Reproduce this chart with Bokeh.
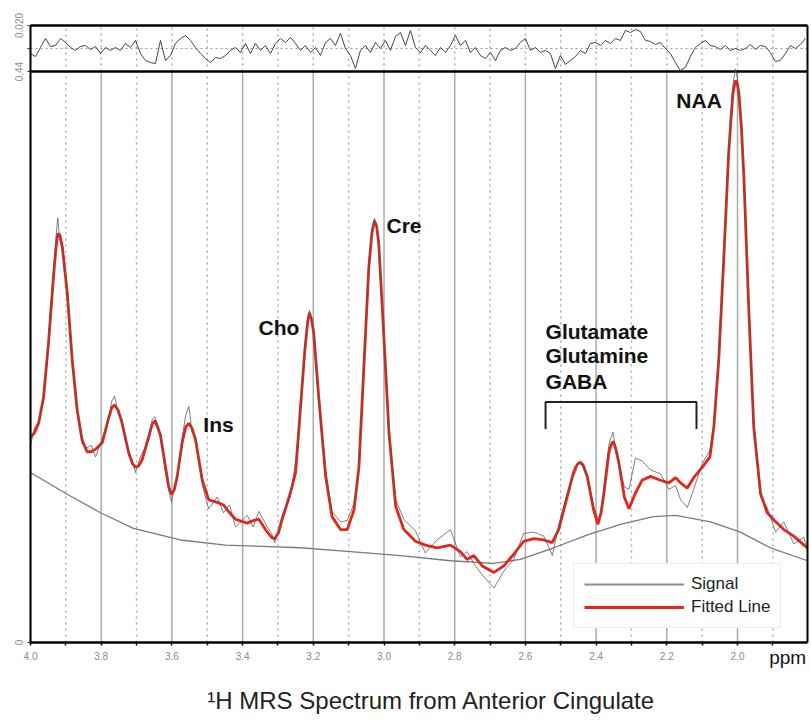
import numpy as np
from bokeh.plotting import figure
from bokeh.models import (Range1d, FixedTicker, Label, Legend, LegendItem,
                          LinearAxis, PrintfTickFormatter)
from bokeh.embed import file_html
from bokeh.resources import INLINE

# ---------------- data ----------------
fit_ppm = [
    4.000, 3.988, 3.977, 3.963, 3.949, 3.935, 3.928, 3.923, 3.917, 3.910,
    3.896, 3.882, 3.868, 3.854, 3.840, 3.828, 3.816, 3.797, 3.780, 3.770,
    3.762, 3.752, 3.741, 3.722, 3.712, 3.703, 3.694, 3.684, 3.665, 3.656,
    3.648, 3.640, 3.632, 3.618, 3.609, 3.601, 3.593, 3.585, 3.571, 3.561,
    3.552, 3.543, 3.533, 3.514, 3.496, 3.472, 3.454, 3.437, 3.420, 3.387,
    3.370, 3.354, 3.330, 3.318, 3.309, 3.298, 3.288, 3.265, 3.250, 3.236,
    3.224, 3.216, 3.211, 3.205, 3.199, 3.184, 3.165, 3.147, 3.123, 3.104,
    3.085, 3.071, 3.057, 3.043, 3.034, 3.027, 3.021, 3.015, 3.001, 2.986,
    2.967, 2.944, 2.911, 2.883, 2.850, 2.812, 2.784, 2.765, 2.746, 2.722,
    2.689, 2.661, 2.633, 2.605, 2.576, 2.548, 2.524, 2.506, 2.482, 2.465,
    2.458, 2.451, 2.444, 2.436, 2.425, 2.407, 2.395, 2.386, 2.378, 2.364,
    2.358, 2.352, 2.345, 2.336, 2.320, 2.307, 2.289, 2.270, 2.246, 2.218,
    2.194, 2.175, 2.161, 2.142, 2.124, 2.100, 2.078, 2.067, 2.053, 2.039,
    2.025, 2.018, 2.013, 2.006, 2.001, 1.996, 1.989, 1.982, 1.968, 1.954,
    1.935, 1.916, 1.892, 1.869, 1.841, 1.812, 1.802]

fit_val = [
    0.158, 0.162, 0.169, 0.189, 0.231, 0.282, 0.304, 0.315, 0.314, 0.305,
    0.269, 0.218, 0.179, 0.156, 0.147, 0.147, 0.149, 0.154, 0.172, 0.181,
    0.183, 0.179, 0.169, 0.146, 0.138, 0.135, 0.136, 0.141, 0.159, 0.168,
    0.171, 0.166, 0.159, 0.135, 0.120, 0.114, 0.118, 0.128, 0.154, 0.166,
    0.169, 0.165, 0.156, 0.125, 0.110, 0.108, 0.106, 0.100, 0.095, 0.092,
    0.094, 0.095, 0.085, 0.081, 0.080, 0.085, 0.095, 0.115, 0.131, 0.182,
    0.225, 0.247, 0.254, 0.249, 0.239, 0.187, 0.128, 0.097, 0.087, 0.087,
    0.102, 0.135, 0.212, 0.289, 0.316, 0.325, 0.321, 0.308, 0.239, 0.162,
    0.105, 0.087, 0.078, 0.075, 0.073, 0.075, 0.070, 0.064, 0.067, 0.059,
    0.054, 0.059, 0.068, 0.078, 0.080, 0.079, 0.077, 0.087, 0.112, 0.130,
    0.135, 0.138, 0.139, 0.136, 0.128, 0.102, 0.091, 0.100, 0.115, 0.146,
    0.152, 0.155, 0.150, 0.139, 0.112, 0.103, 0.115, 0.125, 0.128, 0.125,
    0.123, 0.127, 0.123, 0.119, 0.127, 0.135, 0.143, 0.166, 0.218, 0.295,
    0.377, 0.405, 0.423, 0.433, 0.431, 0.423, 0.397, 0.359, 0.256, 0.166,
    0.115, 0.100, 0.093, 0.087, 0.082, 0.075, 0.073]

signal_val = [
    0.152, 0.166, 0.170, 0.187, 0.233, 0.286, 0.312, 0.327, 0.310, 0.306,
    0.273, 0.214, 0.182, 0.153, 0.150, 0.152, 0.143, 0.157, 0.170, 0.186,
    0.190, 0.176, 0.172, 0.144, 0.141, 0.131, 0.139, 0.146, 0.156, 0.172,
    0.174, 0.163, 0.162, 0.131, 0.117, 0.108, 0.121, 0.126, 0.158, 0.175,
    0.182, 0.162, 0.159, 0.121, 0.103, 0.112, 0.100, 0.106, 0.089, 0.098,
    0.089, 0.101, 0.089, 0.084, 0.077, 0.088, 0.098, 0.113, 0.140, 0.180,
    0.227, 0.249, 0.256, 0.247, 0.241, 0.185, 0.132, 0.101, 0.093, 0.094,
    0.107, 0.133, 0.214, 0.290, 0.318, 0.327, 0.320, 0.307, 0.241, 0.160,
    0.110, 0.095, 0.086, 0.069, 0.079, 0.087, 0.066, 0.070, 0.061, 0.052,
    0.042, 0.055, 0.064, 0.084, 0.085, 0.082, 0.067, 0.090, 0.115, 0.128,
    0.131, 0.139, 0.137, 0.138, 0.126, 0.105, 0.096, 0.098, 0.120, 0.152,
    0.158, 0.162, 0.149, 0.138, 0.120, 0.118, 0.142, 0.140, 0.133, 0.130,
    0.118, 0.121, 0.110, 0.104, 0.118, 0.138, 0.148, 0.168, 0.220, 0.297,
    0.380, 0.410, 0.430, 0.442, 0.436, 0.425, 0.398, 0.360, 0.255, 0.168,
    0.112, 0.104, 0.085, 0.093, 0.076, 0.081, 0.070]

baseline_ppm = [4.000, 3.901, 3.802, 3.709, 3.576, 3.448, 3.236, 3.095, 2.953,
                2.812, 2.690, 2.614, 2.520, 2.424, 2.331, 2.238, 2.175, 2.076,
                1.992, 1.907, 1.802]
baseline_val = [0.131, 0.115, 0.100, 0.088, 0.079, 0.075, 0.073, 0.070, 0.067,
                0.063, 0.061, 0.064, 0.073, 0.083, 0.091, 0.097, 0.098, 0.093,
                0.085, 0.073, 0.063]

residual_val = [
    -0.0044, -0.0070, 0.0009, 0.0087, 0.0017, 0.0026, 0.0087, 0.0052, 0.0009, -0.0017,
    0.0017, 0.0026, -0.0009, 0.0017, -0.0044, 0.0009, -0.0017, 0.0009, -0.0017, 0.0044,
    0.0009, 0.0070, -0.0044, -0.0104, -0.0122, -0.0131, 0.0070, -0.0104, -0.0061, 0.0044,
    0.0087, 0.0113, 0.0070, 0.0009, -0.0044, -0.0087, -0.0122, -0.0078, -0.0087, -0.0061,
    -0.0017, 0.0009, -0.0035, 0.0044, -0.0044, 0.0044, -0.0017, 0.0026, -0.0044, 0.0044,
    0.0087, 0.0052, 0.0096, 0.0044, -0.0017, 0.0026, -0.0035, 0.0009, -0.0061, 0.0052,
    0.0087, 0.0026, 0.0131, 0.0000, -0.0061, -0.0174, -0.0017, 0.0026, -0.0035, 0.0052,
    0.0000, 0.0070, -0.0017, 0.0104, 0.0139, 0.0026, 0.0157, 0.0009, -0.0035, 0.0026,
    -0.0017, -0.0061, 0.0009, -0.0035, 0.0026, 0.0113, 0.0026, 0.0070, -0.0035, 0.0009,
    -0.0061, -0.0087, -0.0035, -0.0104, -0.0017, 0.0009, -0.0017, 0.0000, 0.0052, 0.0087,
    -0.0017, 0.0009, -0.0035, -0.0017, -0.0044, -0.0174, -0.0061, -0.0139, -0.0104, -0.0070,
    -0.0017, -0.0044, 0.0044, 0.0052, 0.0026, 0.0070, 0.0044, 0.0087, 0.0070, 0.0157,
    0.0139, 0.0165, 0.0148, 0.0070, 0.0061, 0.0035, 0.0052, 0.0000, -0.0044, -0.0122,
    -0.0191, -0.0165, -0.0070, 0.0009, 0.0044, 0.0070, 0.0026, 0.0017, -0.0009, 0.0026,
    -0.0017, 0.0000, -0.0017, 0.0000, 0.0035, -0.0009, 0.0026, 0.0017, -0.0035, -0.0113,
    -0.0104, -0.0044, 0.0026, 0.0000, 0.0035, 0.0087]
residual_ppm = np.linspace(4.0, 1.808, len(residual_val))

major_ticks = [4.0, 3.8, 3.6, 3.4, 3.2, 3.0, 2.8, 2.6, 2.4, 2.2, 2.0]
minor_ticks = [3.9, 3.7, 3.5, 3.3, 3.1, 2.9, 2.7, 2.5, 2.3, 2.1, 1.9]

bracket_ppm = [2.543, 2.543, 2.116, 2.116]
bracket_y = [0.1646, 0.1854, 0.1854, 0.1646]

# ---------------- layout constants ----------------
FONT = "Liberation Sans"
GRID_COL = "#ababab"
LEFT, RIGHT, TOP = 30, 3, 25               # margins kept inside the frame
FRAME_W = 777
MAIN_H, RES_H, BELOW_H = 571, 46, 76        # pixel heights of the bands
Y_MAX = 0.44                                # spectrum panel data top
RES_MAX = 0.02                              # residual half range
x_lo, x_hi = 4.0, 1.802                     # plotted ppm span
XPX = FRAME_W / (x_lo - x_hi)               # px per ppm
PX = MAIN_H / Y_MAX                         # px per spectrum unit
y_top = Y_MAX + RES_H / PX                  # top of residual band
RPX = RES_H / (2 * RES_MAX)                 # px per residual unit
res_mid = Y_MAX + RES_MAX * RPX / PX        # residual zero, in spectrum units
res_lo = -RES_MAX - (MAIN_H + BELOW_H) / RPX
res_hi = RES_MAX + TOP / RPX

p = figure(width=LEFT + FRAME_W + RIGHT, height=TOP + RES_H + MAIN_H + BELOW_H,
           x_range=Range1d(x_lo + LEFT / XPX, x_hi - RIGHT / XPX),
           y_range=Range1d(-BELOW_H / PX, y_top + TOP / PX),
           output_backend="svg", toolbar_location=None,
           min_border_left=0, min_border_right=0, min_border_top=0,
           min_border_bottom=0)
p.extra_y_ranges = {"res": Range1d(res_lo, res_hi)}
p.outline_line_color = None
p.xgrid.visible = False
p.ygrid.visible = False

# vertical guide lines: solid at even tenths (spectrum band), dotted elsewhere
p.segment(x0=major_ticks, y0=0, x1=major_ticks, y1=Y_MAX, line_color=GRID_COL,
          line_width=1.5, level="underlay")
p.segment(x0=minor_ticks, y0=0, x1=minor_ticks, y1=y_top, line_color=GRID_COL,
          line_width=1.5, line_dash="2 4", level="underlay")
p.segment(x0=major_ticks, y0=Y_MAX, x1=major_ticks, y1=y_top, line_color=GRID_COL,
          line_width=1.5, line_dash="2 4", level="underlay")
p.segment(x0=[x_lo], y0=[res_mid], x1=[x_hi], y1=[res_mid], line_color="#999999",
          line_width=1, line_dash="2 3", level="underlay")

# x axis drawn at y = 0
ax = p.xaxis[0]
ax.fixed_location = 0
ax.bounds = (x_hi, x_lo)
ax.ticker = FixedTicker(ticks=major_ticks, minor_ticks=minor_ticks)
ax.formatter = PrintfTickFormatter(format="%.1f")
ax.major_label_text_font = FONT
ax.major_label_text_font_size = "10px"
ax.major_label_text_color = "#8a8a8a"
ax.major_label_standoff = 6
ax.major_tick_out = 3
ax.major_tick_in = 0
ax.minor_tick_out = 3
ax.minor_tick_in = 0
ax.axis_line_color = "black"
ax.axis_line_width = 2.5
ax.major_tick_line_color = "black"
ax.minor_tick_line_color = "black"
ax.major_tick_line_width = 1.5
ax.minor_tick_line_width = 1.5

# left axis at 4.0 ppm spanning both bands
ayl = p.yaxis[0]
ayl.fixed_location = x_lo
ayl.bounds = (0, y_top)
ayl.ticker = FixedTicker(ticks=[0, Y_MAX, res_mid, y_top])
ayl.major_label_overrides = {0: "0", Y_MAX: "0.44", res_mid: "", y_top: "0.020"}
ayl.major_label_orientation = "vertical"
ayl.major_label_text_font = FONT
ayl.major_label_text_font_size = "10px"
ayl.major_label_text_color = "#8a8a8a"
ayl.major_tick_out = 3
ayl.major_tick_in = 0
ayl.minor_tick_out = 0
ayl.minor_tick_in = 0
ayl.axis_line_color = "black"
ayl.axis_line_width = 2
ayl.major_tick_line_color = "#333333"

# right border
rax = LinearAxis(fixed_location=x_hi, bounds=(0, y_top), ticker=FixedTicker(ticks=[]),
                 axis_line_color="black", axis_line_width=2,
                 major_tick_out=0, major_tick_in=0, minor_tick_out=0, minor_tick_in=0,
                 major_label_text_font_size="0px")
p.add_layout(rax, "right")
# separator between residual and spectrum bands, and top border
p.segment(x0=[x_lo, x_lo], y0=[Y_MAX, y_top], x1=[x_hi, x_hi], y1=[Y_MAX, y_top],
          line_color="black", line_width=2.5)

# residual
p.line(residual_ppm, residual_val, y_range_name="res", line_color="#444444", line_width=1)

# spectrum
p.line(baseline_ppm, baseline_val, line_color="#7a7a7a", line_width=1.3)
fit_r = p.line(fit_ppm, fit_val, line_color="#e4261c", line_width=2.8)
p.line(fit_ppm, signal_val, line_color="#555555", line_width=1, line_alpha=0.75)
# one-sample renderer used only for the legend swatch of the signal
sig_leg = p.line([fit_ppm[0]], [signal_val[0]], line_color="#8c8c8c", line_width=2)

# bracket for Glx region
p.line(bracket_ppm, bracket_y, line_color="#222222", line_width=2)

def lab(x, y, text, size="21px", bold=True, color="#111111", align="left"):
    p.add_layout(Label(x=x, y=y, text=text, text_font=FONT, text_font_size=size,
                       text_font_style="bold" if bold else "normal",
                       text_color=color, text_baseline="middle", text_align=align))

lab(2.173, 0.418, "NAA")
lab(2.993, 0.321, "Cre")
lab(3.355, 0.243, "Cho")
lab(3.511, 0.168, "Ins")
lab(2.543, 0.240, "Glutamate")
lab(2.543, 0.2208, "Glutamine")
lab(2.543, 0.2015, "GABA")
lab(1.806, -15 / PX, "ppm", size="19px", bold=False, align="right")
lab(2.866, -58 / PX, "\u00b9H MRS Spectrum from Anterior Cingulate", size="24px",
    bold=False, color="#222222", align="center")

legend = Legend(items=[LegendItem(label="Signal", renderers=[sig_leg]),
                       LegendItem(label="Fitted Line", renderers=[fit_r])],
                location=(LEFT + 543, BELOW_H + 14), padding=10, spacing=3,
                glyph_width=100, label_height=20, label_standoff=7, margin=0,
                label_text_font=FONT, label_text_font_size="17px",
                label_text_color="#222222",
                border_line_color="#dcdcdc", border_line_width=1,
                background_fill_color="white", background_fill_alpha=1)
p.add_layout(legend)

open("out.html", "w").write(file_html(p, INLINE))
